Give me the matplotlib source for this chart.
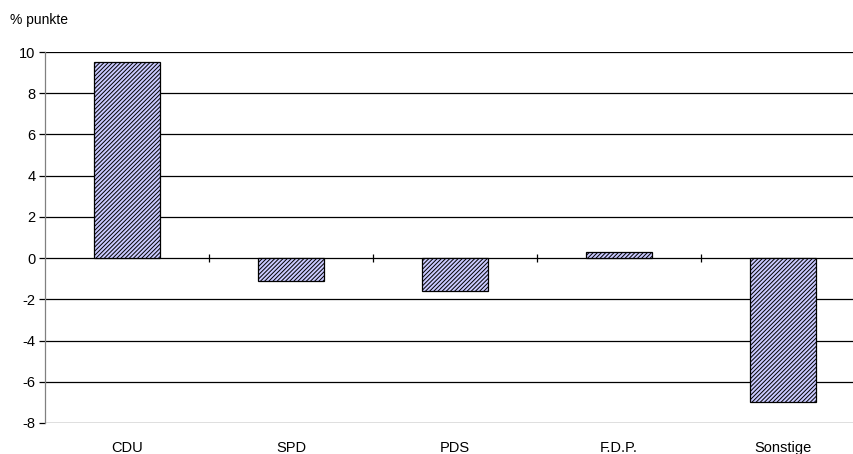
import numpy as np
import matplotlib
matplotlib.use("Agg")
import matplotlib.pyplot as plt

parties = ["CDU", "SPD", "PDS", "F.D.P.", "Sonstige"]
changes = [9.5, -1.1, -1.6, 0.3, -7.0]
y_ticks = [-8, -6, -4, -2, 0, 2, 4, 6, 8, 10]

plt.rcParams["font.family"] = ["Liberation Sans", "DejaVu Sans"]
plt.rcParams["axes.unicode_minus"] = False
plt.rcParams["hatch.linewidth"] = 0.7
plt.rcParams["hatch.color"] = "#4040ff"

fig = plt.figure(figsize=(8.54, 4.54), dpi=100)
ax = fig.add_axes([45 / 854, 1 - 423 / 454, 820 / 854, 371 / 454])

x = np.arange(len(parties))
ax.bar(x, changes, width=0.4, color="#cacaff", edgecolor="black",
       linewidth=0.9, hatch="////////", zorder=3)

# gridlines
for t in y_ticks:
    ax.axhline(t, color="black", linewidth=0.9, zorder=1)

# category separators on the zero line
bounds = x[:-1] + 0.5
ax.vlines(bounds, -0.2, 0.2, color="black", linewidth=0.9, zorder=2)

ax.set_xlim(-0.5, len(parties) - 0.5)
ax.set_ylim(-8, 10)
ax.set_yticks(y_ticks)
ax.set_xticks(x)
ax.set_xticklabels(parties, fontsize=10.5)
ax.tick_params(axis="x", length=0, pad=13)
ax.tick_params(axis="y", length=4, width=0.9, labelsize=10.5, pad=3)

for s in ["top", "right", "bottom"]:
    ax.spines[s].set_visible(False)
ax.spines["left"].set_color("#808080")
ax.spines["left"].set_linewidth(0.9)

fig.text(10 / 854, 1 - 20 / 454, "% punkte", fontsize=10, va="center", ha="left")

fig.savefig("out.png", dpi=100)
